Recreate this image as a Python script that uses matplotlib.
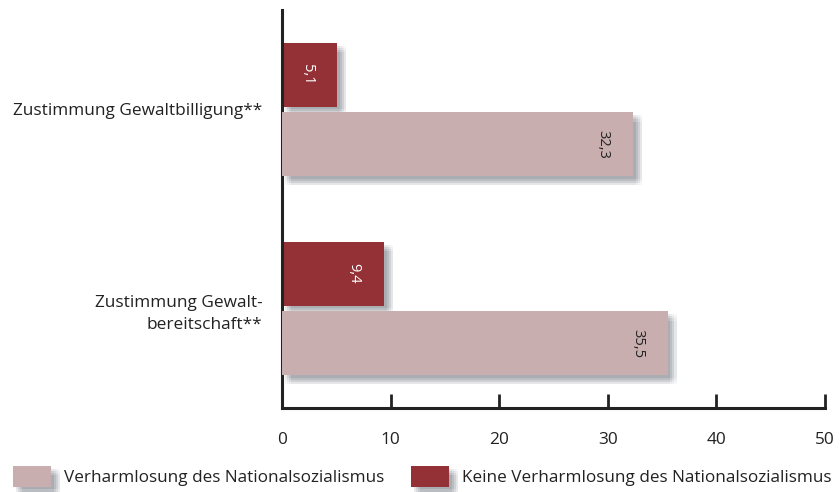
import numpy as np
import matplotlib.pyplot as plt
import matplotlib.patheffects as pe

plt.rcParams['font.family'] = ['Open Sans', 'DejaVu Sans']

categories = ["Zustimmung Gewaltbilligung**", "Zustimmung Gewalt-\nbereitschaft**"]
series_names = ["Verharmlosung des Nationalsozialismus",
                "Keine Verharmlosung des Nationalsozialismus"]
verharmlosung = [32.3, 35.5]
keine_verharmlosung = [5.1, 9.4]
xticks = [0, 10, 20, 30, 40, 50]

PINK = "#c9aeb0"
DARK = "#943136"
TXT = "#222222"


def soft_shadow():
    # fake blurred drop shadow: many faint offset copies
    fx = []
    for dx in (2, 3.5, 5, 6.5):
        for dy in (-2, -3.5, -5, -6.5):
            fx.append(pe.SimplePatchShadow(offset=(dx, dy), shadow_rgbFace="#4a505c", alpha=0.035))
    fx.append(pe.Normal())
    return fx


fig = plt.figure(figsize=(8.4, 4.92), dpi=100)
ax = fig.add_axes([0.3357, 0.1707, 0.6464, 0.809])

y = np.arange(len(categories))
h = 0.32
off = 0.175

b_dark = ax.barh(y - off, keine_verharmlosung, height=h, color=DARK, label=series_names[1], zorder=2)
b_pink = ax.barh(y + off, verharmlosung, height=h, color=PINK, label=series_names[0], zorder=3)
for bars in (b_dark, b_pink):
    for r in bars:
        r.set_path_effects(soft_shadow())

for r, v in zip(b_dark, keine_verharmlosung):
    ax.annotate(f"{v:.1f}".replace(".", ","), (r.get_width(), r.get_y() + r.get_height() / 2),
                xytext=(-30, 0), textcoords="offset pixels", rotation=270,
                ha="center", va="center", color="white", fontsize=10.5, zorder=5)
for r, v in zip(b_pink, verharmlosung):
    ax.annotate(f"{v:.1f}".replace(".", ","), (r.get_width(), r.get_y() + r.get_height() / 2),
                xytext=(-30, 0), textcoords="offset pixels", rotation=270,
                ha="center", va="center", color=TXT, fontsize=10.5, zorder=5)

ax.set_xlim(0, 50)
ax.set_ylim(1.5, -0.5)
ax.set_xticks(xticks)
ax.set_yticks(y)
ax.set_yticklabels(categories, ha="right", fontsize=12.4, color=TXT, linespacing=1.5)
ax.tick_params(axis="y", length=0, pad=14)
ax.tick_params(axis="x", direction="in", length=10, width=2, color=TXT,
               labelsize=12.4, labelcolor=TXT, pad=17)

for s in ("top", "right"):
    ax.spines[s].set_visible(False)
for s in ("left", "bottom"):
    ax.spines[s].set_linewidth(2.2)
    ax.spines[s].set_color(TXT)

leg = fig.legend(handles=[b_pink, b_dark], labels=series_names, loc="upper left",
                 bbox_to_anchor=(0.016, 0.052), ncol=2, frameon=False, fontsize=12.3,
                 handlelength=2.2, handleheight=1.45, handletextpad=0.75,
                 columnspacing=1.6, borderaxespad=0, borderpad=0)
for t in leg.get_texts():
    t.set_color(TXT)
for p in leg.get_patches():
    p.set_path_effects(soft_shadow())

fig.savefig("out.png", dpi=100)
